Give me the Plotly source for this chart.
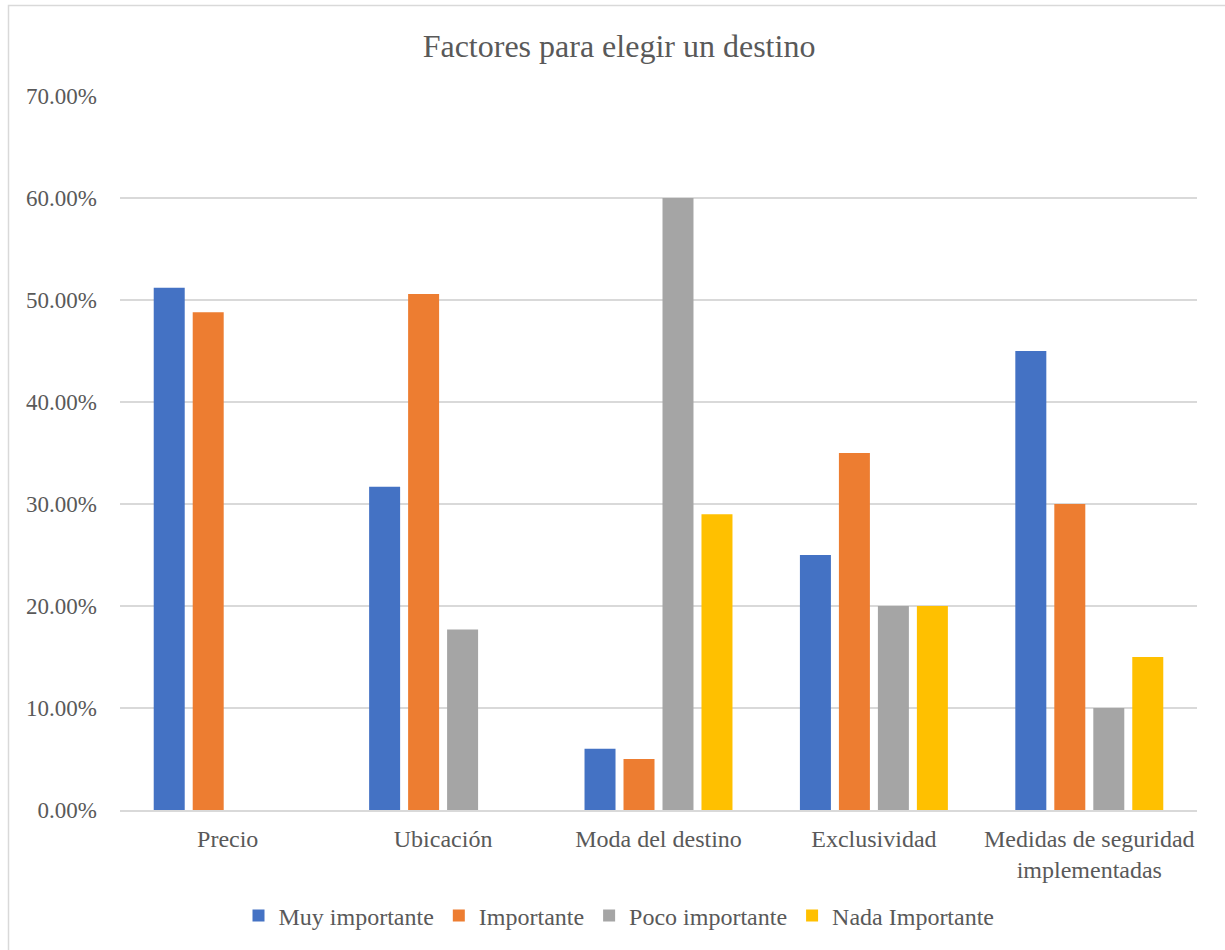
import plotly.graph_objects as go

categories = ["Precio", "Ubicación", "Moda del destino", "Exclusividad",
              "Medidas de seguridad<br>implementadas"]
series_names = ["Muy importante", "Importante", "Poco importante", "Nada Importante"]
muy_importante = [0.512, 0.317, 0.06, 0.25, 0.45]
importante = [0.488, 0.506, 0.05, 0.35, 0.30]
poco_importante = [0.0, 0.177, 0.60, 0.20, 0.10]
nada_importante = [0.0, 0.0, 0.29, 0.20, 0.15]
colors = ["#4472C4", "#ED7D31", "#A5A5A5", "#FFC000"]
tick_vals = [0, 0.1, 0.2, 0.3, 0.4, 0.5, 0.6, 0.7]
tick_text = ["0.00%", "10.00%", "20.00%", "30.00%", "40.00%", "50.00%", "60.00%", "70.00%"]

FONT = "Liberation Serif, Times New Roman, serif"
TXT = "#595959"

fig = go.Figure()
for name, vals, c in zip(series_names,
                         [muy_importante, importante, poco_importante, nada_importante],
                         colors):
    fig.add_trace(go.Bar(x=categories, y=vals, name=name, marker_color=c,
                         marker_line_width=0))

W, H = 1225, 950
L, R, T, B = 120, 28, 96, 140
pw, ph = W - L - R, H - T - B

def px_x(x):
    return (x - L) / pw

def px_y(y):
    return (H - B - y) / ph

fig.update_layout(
    width=W, height=H,
    margin=dict(l=L, r=R, t=T, b=B),
    paper_bgcolor="white", plot_bgcolor="white",
    font=dict(family=FONT, color=TXT, size=24),
    title=dict(text="Factores para elegir un destino", x=px_x(619), xref="paper",
               xanchor="center", y=1 - 46 / H, yanchor="middle",
               font=dict(size=32, color=TXT, family=FONT)),
    barmode="group", bargap=0.276, bargroupgap=0.205,
    legend=dict(orientation="h", x=px_x(619), xanchor="center",
                y=px_y(916), yanchor="middle",
                font=dict(size=24, color=TXT, family=FONT),
                itemwidth=30, tracegroupgap=0,
                traceorder="normal"),
    xaxis=dict(showgrid=False, showline=True, linecolor="#d9d9d9", linewidth=1.5,
               ticks="", ticklabelstandoff=6,
               tickfont=dict(size=24, color=TXT, family=FONT)),
    yaxis=dict(range=[0, 0.7], tickvals=tick_vals, ticktext=tick_text,
               showgrid=True, gridcolor="#d9d9d9", gridwidth=1.5,
               zeroline=False, showline=False, ticks="",
               ticklabelstandoff=22,
               tickfont=dict(size=23, color=TXT, family=FONT)),
    shapes=[dict(type="rect", xref="paper", yref="paper",
                 x0=px_x(8.5), x1=px_x(1240), y0=px_y(5.5), y1=px_y(970),
                 line=dict(color="#d9d9d9", width=1.5), fillcolor="rgba(0,0,0,0)",
                 layer="below")],
)

fig.write_html("out.html")
